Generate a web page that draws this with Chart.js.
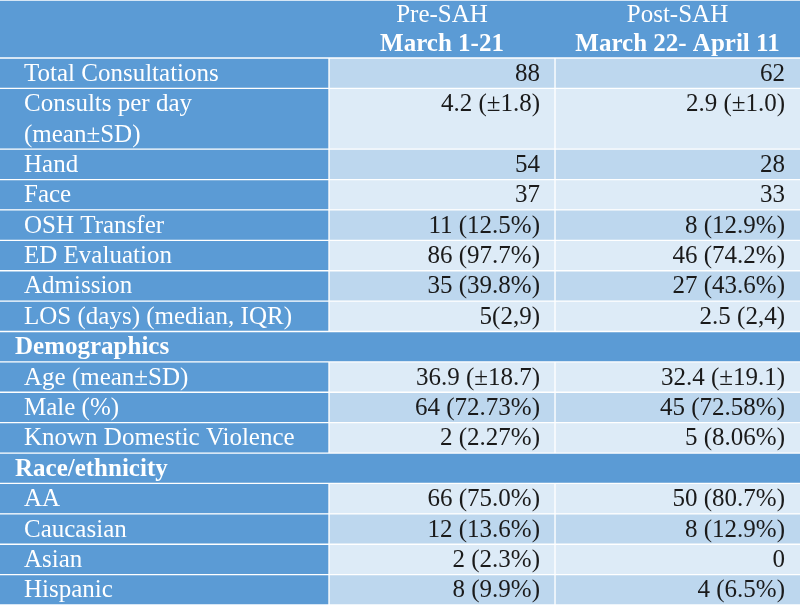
<!DOCTYPE html>
<html>
<head>
<meta charset="utf-8">
<script src="https://cdn.jsdelivr.net/npm/chart.js@4/dist/chart.umd.min.js"></script>
<style>
  html, body { margin: 0; padding: 0; background: #ffffff; }
  #wrap { width: 800px; height: 605px; position: relative; }
</style>
</head>
<body>
<div id="wrap"><canvas id="myChart"></canvas></div>
<script>
// table data
var groupTitles = ["Pre-SAH", "Post-SAH"];
var groupDates = ["March 1-21", "March 22- April 11"];
var rowLabels = [
  "Total Consultations",
  "Consults per day\n(mean±SD)",
  "Hand",
  "Face",
  "OSH Transfer",
  "ED Evaluation",
  "Admission",
  "LOS (days) (median, IQR)",
  "Demographics",
  "Age (mean±SD)",
  "Male (%)",
  "Known Domestic Violence",
  "Race/ethnicity",
  "AA",
  "Caucasian",
  "Asian",
  "Hispanic"
];
// null = section heading row
var preValues = ["88", "4.2 (±1.8)", "54", "37", "11 (12.5%)", "86 (97.7%)", "35 (39.8%)", "5(2,9)", null,
  "36.9 (±18.7)", "64 (72.73%)", "2 (2.27%)", null, "66 (75.0%)", "12 (13.6%)", "2 (2.3%)", "8 (9.9%)"];
var postValues = ["62", "2.9 (±1.0)", "28", "33", "8 (12.9%)", "46 (74.2%)", "27 (43.6%)", "2.5 (2,4)", null,
  "32.4 (±19.1)", "45 (72.58%)", "5 (8.06%)", null, "50 (80.7%)", "8 (12.9%)", "0", "4 (6.5%)"];

// layout
var W = 800, H = 605;
var headerH = 58;
var colEdges = [0, 329, 555, 800];
var lineCount = rowLabels.map(function (l) { return l.split("\n").length; });
var units = lineCount.reduce(function (a, b) { return a + b; }, 0);
var rowH = (H - headerH) / units;
var rowTop = [];
var acc = headerH;
lineCount.forEach(function (n) { rowTop.push(acc); acc += n * rowH; });

var BLUE = "#5B9BD5", DARK = "#BDD7EE", LIGHT = "#DDEBF7";
var FONT = '"Liberation Serif", "Times New Roman", serif';
var SIZE = 25;

function isSection(i) { return preValues[i] === null; }
function span(i) { return [rowTop[i], rowTop[i] + lineCount[i] * rowH]; }

// cells
var bandData = [{ x: W / 2, y: [0, headerH] }];
var labelData = [], preData = [], postData = [], preColors = [], postColors = [];
rowLabels.forEach(function (l, i) {
  if (isSection(i)) {
    bandData.push({ x: W / 2, y: span(i) });
    return;
  }
  labelData.push({ x: (colEdges[0] + colEdges[1]) / 2, y: span(i) });
  preData.push({ x: (colEdges[1] + colEdges[2]) / 2, y: span(i) });
  postData.push({ x: (colEdges[2] + colEdges[3]) / 2, y: span(i) });
  var c = i % 2 === 0 ? DARK : LIGHT;
  preColors.push(c);
  postColors.push(c);
});

function cellSet(data, color, width, bw) {
  return {
    data: data,
    backgroundColor: color,
    borderColor: "#ffffff",
    borderWidth: bw,
    borderSkipped: false,
    barThickness: width,
    grouped: false
  };
}

var textPlugin = {
  id: "tableText",
  afterDatasetsDraw: function (chart) {
    var ctx = chart.ctx;
    var xs = chart.scales.x, ys = chart.scales.y;
    ctx.save();
    ctx.textBaseline = "middle";

    // column headers
    ctx.fillStyle = "#ffffff";
    ctx.textAlign = "center";
    groupTitles.forEach(function (t, k) {
      var cx = xs.getPixelForValue((colEdges[k + 1] + colEdges[k + 2]) / 2);
      ctx.font = SIZE + "px " + FONT;
      ctx.fillText(t, cx, ys.getPixelForValue(headerH * 0.26));
      ctx.font = "bold " + SIZE + "px " + FONT;
      ctx.fillText(groupDates[k], cx, ys.getPixelForValue(headerH * 0.77));
    });

    rowLabels.forEach(function (l, i) {
      var lines = l.split("\n");
      var top = rowTop[i];
      ctx.textAlign = "left";
      ctx.fillStyle = "#ffffff";
      if (isSection(i)) {
        ctx.font = "bold " + SIZE + "px " + FONT;
        ctx.fillText(l, xs.getPixelForValue(15), ys.getPixelForValue(top + rowH / 2 + 1));
        return;
      }
      ctx.font = SIZE + "px " + FONT;
      lines.forEach(function (s, j) {
        ctx.fillText(s, xs.getPixelForValue(24), ys.getPixelForValue(top + rowH * (j + 0.5) + 1));
      });
      ctx.textAlign = "right";
      ctx.fillStyle = "#1a1a1a";
      var vy = ys.getPixelForValue(top + rowH / 2 + 1);
      ctx.fillText(preValues[i], xs.getPixelForValue(colEdges[2] - 15), vy);
      ctx.fillText(postValues[i], xs.getPixelForValue(colEdges[3] - 15), vy);
    });
    ctx.restore();
  }
};

var ctx = document.getElementById("myChart").getContext("2d");
var myChart = new Chart(ctx, {
  type: "bar",
  data: {
    datasets: [
      cellSet(bandData, BLUE, W, { top: 1, bottom: 1, left: 0, right: 0 }),
      cellSet(labelData, BLUE, colEdges[1] - colEdges[0], { top: 1, bottom: 1, left: 0, right: 1 }),
      cellSet(preData, preColors, colEdges[2] - colEdges[1], 1),
      cellSet(postData, postColors, colEdges[3] - colEdges[2], { top: 1, bottom: 1, left: 1, right: 0 })
    ]
  },
  plugins: [textPlugin],
  options: {
    responsive: true,
    maintainAspectRatio: false,
    animation: false,
    layout: { padding: 0 },
    plugins: {
      legend: { display: false },
      tooltip: { enabled: false }
    },
    scales: {
      x: { type: "linear", min: 0, max: W, offset: false, display: false },
      y: { type: "linear", min: 0, max: H, reverse: true, display: false }
    }
  }
});
</script>
</body>
</html>
